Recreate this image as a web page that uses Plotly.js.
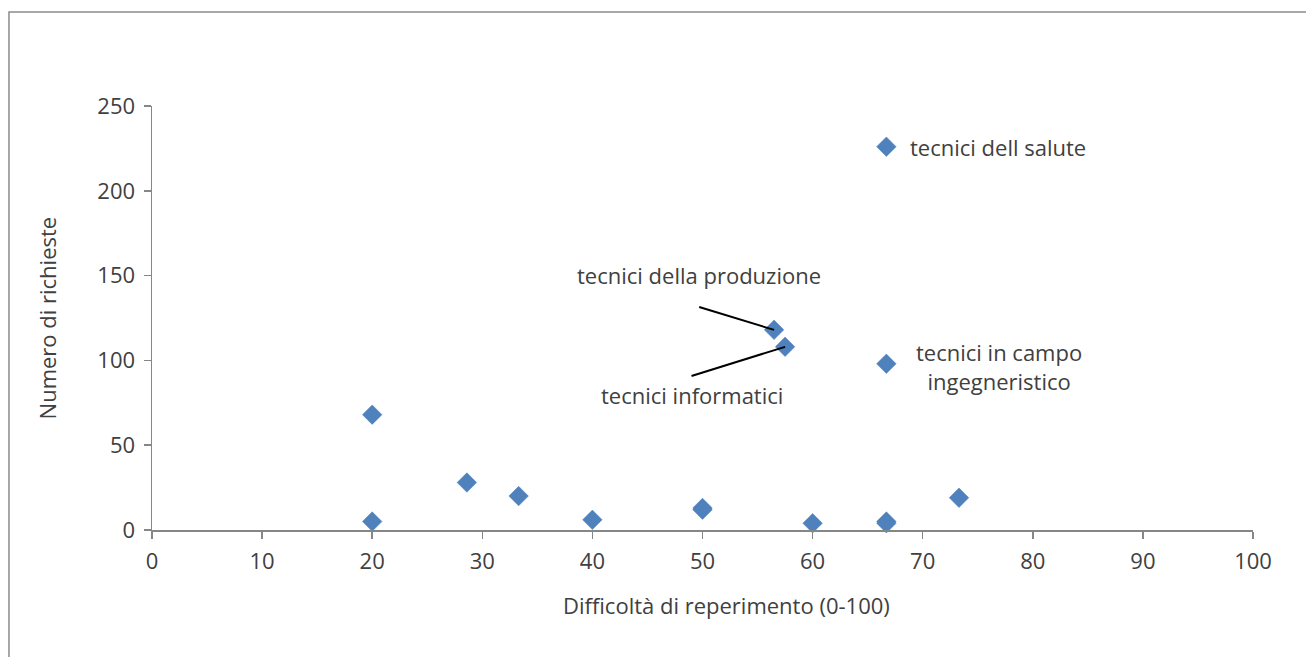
<!DOCTYPE html>
<html>
<head>
<meta charset="utf-8">
<script src="https://cdn.plot.ly/plotly-3.0.1.min.js"></script>
<style>
  html, body { margin: 0; padding: 0; background: #ffffff; }
  #chart { width: 1306px; height: 657px; }
</style>
</head>
<body>
<div id="chart"></div>
<script>
// Difficoltà di reperimento vs numero di richieste per profilo tecnico
const difficolta = [20, 20, 28.6, 33.3, 40, 50, 50, 56.5, 57.5, 60, 66.7, 66.7, 66.7, 66.7, 73.3];
const richieste  = [68, 5, 28, 20, 6, 13, 12, 118, 108, 4, 5, 4, 98, 226, 19];

const xTicks = [0, 10, 20, 30, 40, 50, 60, 70, 80, 90, 100];
const yTicks = [0, 50, 100, 150, 200, 250];

// indices of the labelled profiles
const iProduzione = 7, iInformatici = 8, iIngegneristico = 12, iSalute = 13;

const axisGrey = '#868686';
const textGrey = '#404040';
const font = 'Open Sans, sans-serif';
const fs = 22;

const trace = {
  x: difficolta,
  y: richieste,
  type: 'scatter',
  mode: 'markers',
  marker: { symbol: 'diamond', size: 15, color: '#4F81BD', line: { width: 0.5, color: '#4A7EBB' } },
  hoverinfo: 'x+y',
  cliponaxis: false
};

const annotations = [
  { x: difficolta[iSalute], y: richieste[iSalute], xref: 'x', yref: 'y', text: 'tecnici dell salute',
    showarrow: false, xanchor: 'left', xshift: 22 },
  { x: 76.9, y: 96.7, xref: 'x', yref: 'y', text: 'tecnici in campo<br>ingegneristico',
    showarrow: false, xanchor: 'center', align: 'center' },
  { x: 49.7, y: 150.4, xref: 'x', yref: 'y', text: 'tecnici della produzione',
    showarrow: false, xanchor: 'center' },
  { x: 49.05, y: 79.6, xref: 'x', yref: 'y', text: 'tecnici informatici',
    showarrow: false, xanchor: 'center' },
  // axis titles
  { x: 0.522, y: -0.178, xref: 'paper', yref: 'paper', text: 'Difficoltà di reperimento (0-100)',
    showarrow: false, xanchor: 'center', yanchor: 'middle' },
  { x: -0.095, y: 0.5, xref: 'paper', yref: 'paper', text: 'Numero di richieste',
    showarrow: false, textangle: -90, xanchor: 'center', yanchor: 'middle' }
];

const shapes = [
  // leader lines to the two close points
  { type: 'line', xref: 'x', yref: 'y', x0: 49.7, y0: 131.5,
    x1: difficolta[iProduzione], y1: richieste[iProduzione], line: { color: '#000000', width: 2 } },
  { type: 'line', xref: 'x', yref: 'y', x0: 49.0, y0: 90.8,
    x1: difficolta[iInformatici], y1: richieste[iInformatici], line: { color: '#000000', width: 2 } },
  // chart frame
  { type: 'rect', xref: 'paper', yref: 'paper', x0: -0.1299, x1: 1.0518, y0: -0.318, y1: 1.2217,
    line: { color: '#8c8c8c', width: 1.5 }, fillcolor: 'rgba(0,0,0,0)', layer: 'below' }
];

const axisCommon = {
  showgrid: false,
  zeroline: false,
  showline: true,
  linecolor: axisGrey,
  linewidth: 1.5,
  ticks: 'outside',
  ticklen: 7,
  tickwidth: 1.5,
  tickcolor: axisGrey,
  tickfont: { family: font, size: fs, color: textGrey },
  fixedrange: true
};

const layout = {
  width: 1306,
  height: 657,
  margin: { l: 152, r: 53, t: 106, b: 127 },
  paper_bgcolor: '#ffffff',
  plot_bgcolor: '#ffffff',
  showlegend: false,
  font: { family: font, size: fs, color: textGrey },
  xaxis: Object.assign({
    range: [0, 100],
    tickvals: xTicks,
    ticktext: xTicks.map(String),
    ticklabelstandoff: 4
  }, axisCommon),
  yaxis: Object.assign({
    range: [0, 250],
    tickvals: yTicks,
    ticktext: yTicks.map(String),
    ticklabelstandoff: 4
  }, axisCommon),
  annotations: annotations,
  shapes: shapes
};

Plotly.newPlot('chart', [trace], layout, { displayModeBar: false, staticPlot: true });
</script>
</body>
</html>
